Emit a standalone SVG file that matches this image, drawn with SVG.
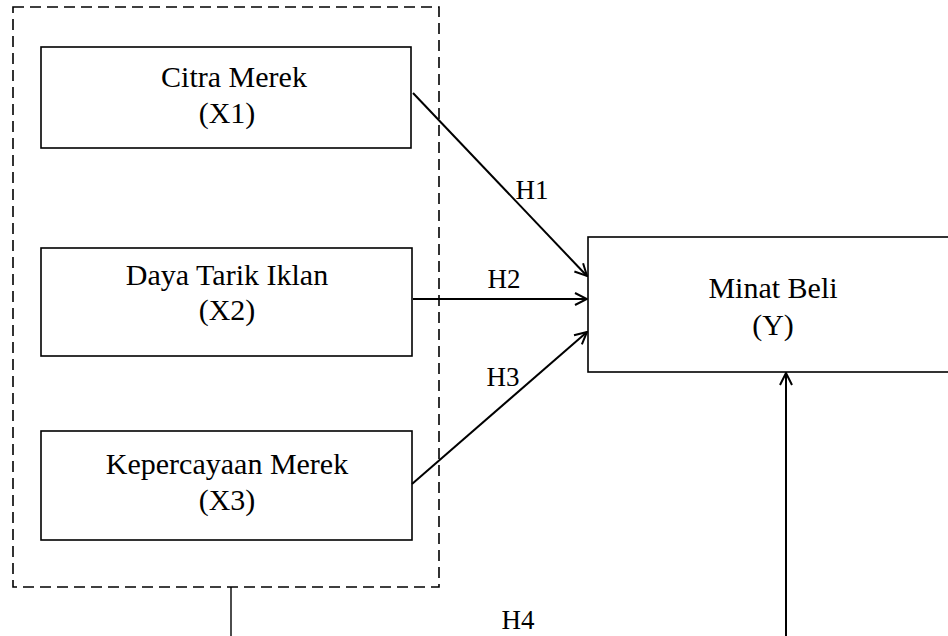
<svg xmlns="http://www.w3.org/2000/svg" width="948" height="636" viewBox="0 0 948 636">
<style>
.box{fill:#fff;stroke:#000;stroke-width:1.6}
.t{font-family:"Liberation Serif","Times New Roman",serif;font-size:30px;fill:#000;text-anchor:middle}
.h{font-size:27px}
.c{stroke:#000;stroke-width:2;fill:none}
</style>
<defs>
<marker id="ah" viewBox="0 0 14 14" refX="13" refY="7" markerWidth="14" markerHeight="14" markerUnits="userSpaceOnUse" orient="auto">
<path d="M1,1 L13,7 L1,13" fill="none" stroke="#000" stroke-width="2"/>
</marker>
</defs>
<rect width="948" height="636" fill="#fff"/>
<g id="group">
<rect x="13" y="7" width="426" height="580" fill="none" stroke="#000" stroke-width="1.6" stroke-dasharray="11,6"/>
</g>
<g id="x1">
<rect class="box" x="41" y="47" width="370" height="101"/>
<text class="t" x="234" y="87">Citra Merek</text>
<text class="t" x="227" y="123">(X1)</text>
</g>
<g id="x2">
<rect class="box" x="41" y="248" width="371" height="108"/>
<text class="t" x="227" y="285">Daya Tarik Iklan</text>
<text class="t" x="227" y="320">(X2)</text>
</g>
<g id="x3">
<rect class="box" x="41" y="431" width="371" height="109"/>
<text class="t" x="227" y="474">Kepercayaan Merek</text>
<text class="t" x="227" y="510">(X3)</text>
</g>
<g id="y">
<rect class="box" x="588" y="237" width="366" height="135"/>
<text class="t" x="773" y="298">Minat Beli</text>
<text class="t" x="773" y="335">(Y)</text>
</g>
<g id="connectors">
<line class="c" x1="413" y1="93" x2="587" y2="276" marker-end="url(#ah)"/>
<line class="c" x1="413" y1="299" x2="587" y2="299" marker-end="url(#ah)"/>
<line class="c" x1="412" y1="484" x2="587" y2="332" marker-end="url(#ah)"/>
<line x1="231" y1="587" x2="231" y2="636" stroke="#000" stroke-width="1.4"/>
<line class="c" x1="786" y1="636" x2="786" y2="373" marker-end="url(#ah)"/>
</g>
<g id="labels">
<text class="t h" x="532" y="199">H1</text>
<text class="t h" x="504" y="288">H2</text>
<text class="t h" x="503" y="386">H3</text>
<text class="t h" x="518" y="629">H4</text>
</g>
</svg>
